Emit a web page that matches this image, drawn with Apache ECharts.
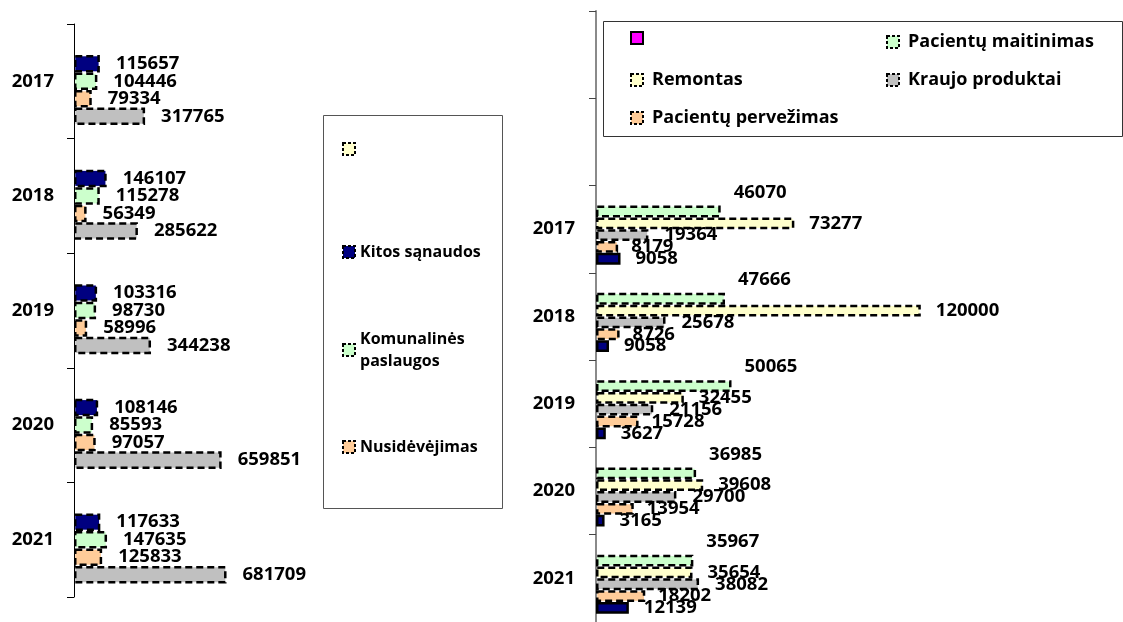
<!DOCTYPE html>
<html><head><meta charset="utf-8">
<script src="https://cdn.jsdelivr.net/npm/echarts@6/dist/echarts.min.js"></script>
<style>html,body{margin:0;padding:0;background:#fff}#c{width:1123px;height:622px}</style>
</head><body><div id="c"></div>
<script>
// ---- data: left chart ----
const leftYears = ['2017', '2018', '2019', '2020', '2021'];
const leftEmpty = [null, null, null, null, null];
const kitosSanaudos = [115657, 146107, 103316, 108146, 117633];
const komunalines = [104446, 115278, 98730, 85593, 147635];
const nusidevejimas = [79334, 56349, 58996, 97057, 125833];
const leftGray = [317765, 285622, 344238, 659851, 681709];
// ---- data: right chart ----
const rightYears = ['\u00a0', '\u00a0\u00a0', '2017', '2018', '2019', '2020', '2021'];
const rightEmpty = [null, null, null, null, null, null, null];
const maitinimas = [null, null, 46070, 47666, 50065, 36985, 35967];
const remontas = [null, null, 73277, 120000, 32455, 39608, 35654];
const kraujo = [null, null, 19364, 25678, 21156, 29700, 38082];
const pervezimas = [null, null, 8179, 8726, 15728, 13954, 18202];
const rightNavy = [null, null, 9058, 4800, 3627, 3165, 12139];
const rightNavyLabels = ['', '', '9058', '9058', '3627', '3165', '12139'];

const N_EMPTY_L = '\u200b';
const N_EMPTY_R = '\u200b\u200b';
const N_KITOS = 'Kitos sąnaudos';
const N_KOMUN = 'Komunalinės paslaugos';
const N_NUSID = 'Nusidėvėjimas';
const N_LGRAY = 'Kitos (pilka)';
const N_MAIT = 'Pacientų maitinimas';
const N_REM = 'Remontas';
const N_KRAUJ = 'Kraujo produktai';
const N_PERV = 'Pacientų pervežimas';
const N_RNAVY = 'Kitos (dešinė)';

const FONT = 'Open Sans';
const txt = {fontFamily: FONT, fontWeight: 700, fontSize: 18.5, color: '#000'};
const DASH = [7, 4];

function bar(name, data, color, gi, opts) {
  opts = opts || {};
  return {
    type: 'bar', name: name, data: data, xAxisIndex: gi, yAxisIndex: gi,
    barGap: '0%', barCategoryGap: gi === 0 ? '23.6%' : '18.7%',
    itemStyle: {color: color, borderColor: '#000', borderWidth: 2.5, borderType: opts.solid ? 'solid' : DASH},
    label: Object.assign({show: true, position: 'right', distance: opts.distance || 15,
      offset: opts.offset || [0, 0],
      formatter: opts.formatter || (p => p.value == null ? '' : String(p.value))}, txt),
    animation: false
  };
}

function leg(name, left, top, size, extra) {
  extra = extra || {};
  return {
    data: [name], left: left, top: top, orient: 'vertical', padding: 0,
    icon: 'rect', itemWidth: 12, itemHeight: 12, selectedMode: false,
    itemStyle: {borderColor: '#000', borderWidth: 2, borderType: extra.solid ? 'solid' : [3, 2]},
    textStyle: Object.assign({fontFamily: FONT, fontWeight: 700, fontSize: size, color: '#000', lineHeight: 22}, extra.textStyle || {}),
    formatter: extra.formatter || (n => n)
  };
}

const option = {
  backgroundColor: '#fff',
  animation: false,
  grid: [
    {left: 74, top: 24, width: 179, height: 573},
    {left: 596, top: 11, width: 406, height: 620}
  ],
  xAxis: [
    {gridIndex: 0, type: 'value', min: 0, max: 800000, show: false},
    {gridIndex: 1, type: 'value', min: 0, max: 150000, show: false}
  ],
  yAxis: [
    {gridIndex: 0, type: 'category', data: leftYears, inverse: true,
     axisLine: {show: true, lineStyle: {color: '#000', width: 1}},
     axisTick: {show: true, length: 7, lineStyle: {color: '#000', width: 1}},
     axisLabel: Object.assign({margin: 20}, txt)},
    {gridIndex: 1, type: 'category', data: rightYears, inverse: true,
     axisLine: {show: true, lineStyle: {color: '#8a8a8a', width: 2}},
     axisTick: {show: true, length: 7, lineStyle: {color: '#444', width: 1}},
     axisLabel: Object.assign({margin: 21}, txt)}
  ],
  legend: [
    leg(N_EMPTY_L, 342, 142, 16, {formatter: () => ''}),
    leg(N_KITOS, 342, 241, 16),
    leg(N_KOMUN, 342, 317, 16, {formatter: () => 'Komunalinės\npaslaugos', textStyle: {padding: [22, 0, 0, 0]}}),
    leg(N_NUSID, 342, 436, 16),
    leg(N_EMPTY_R, 630, 31, 18, {solid: true, formatter: () => ''}),
    leg(N_REM, 630, 69, 18, {textStyle: {padding: [0, 0, 0, 4]}}),
    leg(N_PERV, 630, 107, 18, {textStyle: {padding: [0, 0, 0, 4]}}),
    leg(N_MAIT, 886, 31, 18, {textStyle: {padding: [0, 0, 0, 4]}}),
    leg(N_KRAUJ, 886, 69, 18, {textStyle: {padding: [0, 0, 0, 4]}})
  ],
  graphic: [
    {type: 'rect', shape: {x: 323.5, y: 115.5, width: 179, height: 393}, style: {fill: 'none', stroke: '#555', lineWidth: 1}, silent: true},
    {type: 'rect', shape: {x: 603.5, y: 21.5, width: 519, height: 115}, style: {fill: 'none', stroke: '#333', lineWidth: 1}, silent: true}
  ],
  series: [
    bar(N_EMPTY_L, leftEmpty, '#FFFFCC', 0),
    bar(N_KITOS, kitosSanaudos, '#000080', 0, {distance: 16}),
    bar(N_KOMUN, komunalines, '#CCFFCC', 0, {distance: 16}),
    bar(N_NUSID, nusidevejimas, '#FFCC99', 0, {distance: 16}),
    bar(N_LGRAY, leftGray, '#C0C0C0', 0, {distance: 16}),
    bar(N_EMPTY_R, rightEmpty, '#FF00FF', 1, {solid: true}),
    bar(N_MAIT, maitinimas, '#CCFFCC', 1, {distance: 13, offset: [0, -19]}),
    bar(N_REM, remontas, '#FFFFCC', 1, {distance: 15}),
    bar(N_KRAUJ, kraujo, '#C0C0C0', 1, {distance: 16}),
    bar(N_PERV, pervezimas, '#FFCC99', 1, {distance: 13}),
    bar(N_RNAVY, rightNavy, '#000080', 1, {solid: true, distance: 15,
      formatter: p => rightNavyLabels[p.dataIndex]})
  ]
};
const chart = echarts.init(document.getElementById('c'), null, {renderer: 'canvas'});
chart.setOption(option);
</script></body></html>
